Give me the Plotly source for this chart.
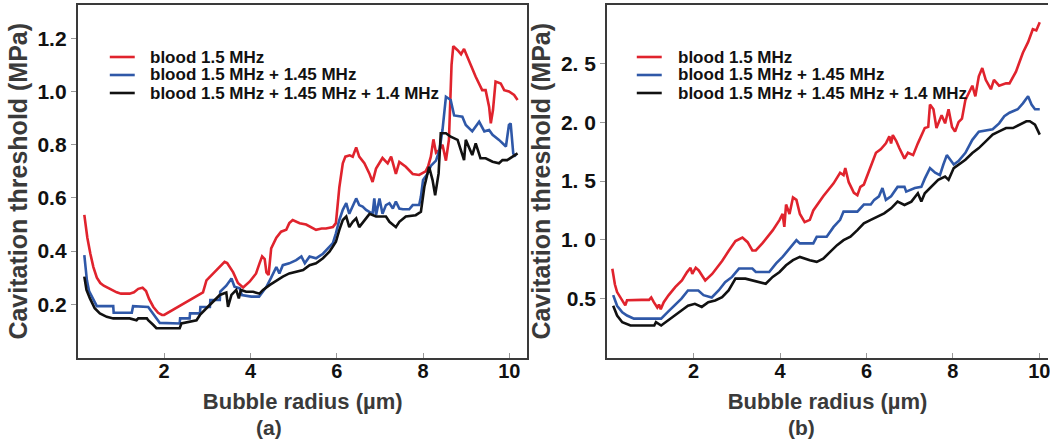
import plotly.graph_objects as go

# ---------------- data: panel (a) ----------------
a_red_x = [0.15, 0.22, 0.29, 0.36, 0.44, 0.52, 0.6, 0.74, 0.9, 1.0, 1.2, 1.3, 1.4, 1.5, 1.58, 1.65, 1.75, 1.86,
           1.95, 2.0, 2.13, 2.29, 2.4, 2.52, 2.67, 2.8, 2.9, 2.98, 3.13, 3.29, 3.4, 3.46, 3.52, 3.6, 3.71, 3.83,
           3.98, 4.13, 4.21, 4.27, 4.33, 4.37, 4.42, 4.48, 4.6, 4.71, 4.83, 4.9, 4.98, 5.06, 5.14, 5.29, 5.4,
           5.52, 5.65, 5.75, 5.91, 5.98, 6.06, 6.14, 6.2, 6.3, 6.37, 6.45, 6.52, 6.64, 6.76, 6.83, 6.91, 7.06,
           7.18, 7.26, 7.37, 7.45, 7.6, 7.76, 7.91, 8.06, 8.12, 8.18, 8.24, 8.3, 8.38, 8.45, 8.53, 8.6, 8.66,
           8.7, 8.8, 8.88, 8.95, 9.07, 9.22, 9.37, 9.45, 9.53, 9.57, 9.62, 9.68, 9.8, 9.88, 9.99, 10.11, 10.19]
a_red_y = [0.536, 0.45, 0.39, 0.34, 0.30, 0.28, 0.27, 0.258, 0.245, 0.24, 0.24, 0.245, 0.258, 0.262, 0.25, 0.22,
           0.19, 0.168, 0.16, 0.16, 0.172, 0.19, 0.2, 0.21, 0.222, 0.235, 0.245, 0.29, 0.316, 0.34, 0.36, 0.355,
           0.34, 0.32, 0.28, 0.263, 0.285, 0.316, 0.354, 0.38, 0.37, 0.32, 0.31, 0.41, 0.45, 0.473, 0.48, 0.505,
           0.517, 0.51, 0.505, 0.50, 0.49, 0.48, 0.485, 0.485, 0.49, 0.505, 0.64, 0.73, 0.755, 0.76, 0.755, 0.79,
           0.755, 0.73, 0.69, 0.66, 0.71, 0.75, 0.73, 0.755, 0.69, 0.735, 0.717, 0.69, 0.686, 0.70, 0.72, 0.755,
           0.82, 0.77, 0.78, 0.80, 0.74, 0.82, 1.1, 1.17, 1.155, 1.14, 1.16, 1.11, 1.055, 1.005, 1.005, 0.943,
           0.88, 0.93, 1.037, 1.03, 1.005, 1.0, 0.987, 0.968]

a_blue_x = [0.15, 0.21, 0.26, 0.32, 0.4, 0.44, 0.82, 0.83, 1.25, 1.28, 1.63, 1.72, 1.8, 1.9, 2.36, 2.37, 2.59,
            2.6, 2.83, 2.84, 3.06, 3.07, 3.29, 3.3, 3.44, 3.56, 3.63, 3.75, 3.8, 4.02, 4.2, 4.29, 4.37, 4.48,
            4.6, 4.67, 4.75, 4.9, 5.06, 5.18, 5.26, 5.37, 5.52, 5.68, 5.83, 5.91, 5.98, 6.06, 6.14, 6.22,
            6.29, 6.37, 6.45, 6.52, 6.6, 6.68, 6.76, 6.83, 6.87, 6.91, 6.99, 7.06, 7.14, 7.22, 7.3, 7.37, 7.45,
            7.53, 7.68, 7.76, 7.91, 7.95, 8.0, 8.1, 8.18, 8.3, 8.38, 8.45, 8.53, 8.57, 8.64, 8.72, 8.91, 8.99,
            9.14, 9.3, 9.42, 9.53, 9.61, 9.76, 9.84, 9.92, 9.99, 10.03, 10.09, 10.15]
a_blue_y = [0.385, 0.29, 0.25, 0.229, 0.205, 0.193, 0.193, 0.168, 0.168, 0.193, 0.19, 0.17, 0.15, 0.13, 0.128,
            0.147, 0.147, 0.166, 0.166, 0.19, 0.19, 0.216, 0.216, 0.248, 0.27, 0.297, 0.266, 0.26, 0.235, 0.229,
            0.229, 0.247, 0.266, 0.30, 0.34, 0.316, 0.347, 0.354, 0.366, 0.38, 0.354, 0.38, 0.373, 0.39, 0.417,
            0.43, 0.467, 0.517, 0.555, 0.58, 0.54, 0.567, 0.598, 0.573, 0.567, 0.555, 0.548, 0.54, 0.598, 0.535,
            0.598, 0.54, 0.573, 0.58, 0.56, 0.586, 0.56, 0.557, 0.557, 0.573, 0.573, 0.605, 0.667, 0.69, 0.72,
            0.74, 0.78, 0.855, 0.98, 0.975, 0.968, 0.91, 0.905, 0.874, 0.85, 0.886, 0.85, 0.855, 0.837, 0.818,
            0.805, 0.793, 0.874, 0.88, 0.767, 0.755]

a_black_x = [0.15, 0.2, 0.28, 0.39, 0.51, 0.67, 0.82, 1.2, 1.36, 1.4, 1.6, 1.63, 1.75, 1.82, 2.36, 2.4, 2.75,
             2.83, 2.98, 3.13, 3.29, 3.44, 3.48, 3.56, 3.67, 3.73, 3.78, 3.9, 4.06, 4.21, 4.29, 4.45, 4.6,
             4.75, 4.9, 5.06, 5.22, 5.37, 5.52, 5.68, 5.83, 5.91, 5.98, 6.06, 6.14, 6.22, 6.29, 6.37, 6.45,
             6.52, 6.64, 6.76, 6.91, 7.14, 7.22, 7.37, 7.45, 7.6, 7.83, 7.95, 8.03, 8.1, 8.14, 8.22, 8.28,
             8.36, 8.41, 8.53, 8.64, 8.8, 8.95, 8.99, 9.14, 9.22, 9.33, 9.45, 9.61, 9.76, 9.84, 9.95, 10.07,
             10.19]
a_black_y = [0.304, 0.254, 0.222, 0.185, 0.166, 0.153, 0.147, 0.147, 0.14, 0.147, 0.147, 0.14, 0.122, 0.11,
             0.11, 0.128, 0.14, 0.16, 0.185, 0.21, 0.235, 0.244, 0.19, 0.235, 0.254, 0.222, 0.254, 0.247, 0.247,
             0.24, 0.254, 0.273, 0.29, 0.304, 0.316, 0.322, 0.329, 0.347, 0.354, 0.373, 0.398, 0.417, 0.435,
             0.48, 0.517, 0.53, 0.49, 0.51, 0.523, 0.49, 0.517, 0.54, 0.53, 0.53, 0.51, 0.49, 0.51, 0.53, 0.535,
             0.548, 0.642, 0.686, 0.717, 0.667, 0.61, 0.692, 0.843, 0.843, 0.83, 0.818, 0.742, 0.818, 0.761,
             0.805, 0.749, 0.749, 0.736, 0.73, 0.742, 0.742, 0.755, 0.767]

# ---------------- data: panel (b) ----------------
b_red_x = [0.12, 0.18, 0.23, 0.31, 0.42, 0.46, 0.6, 0.8, 0.97, 1.02, 1.08, 1.16, 1.2, 1.24, 1.31, 1.42, 1.58,
           1.73, 1.85, 1.93, 1.97, 2.05, 2.12, 2.27, 2.43, 2.66, 2.81, 2.97, 3.13, 3.25, 3.36, 3.44, 3.59, 3.83,
           3.99, 4.06, 4.1, 4.14, 4.22, 4.3, 4.38, 4.46, 4.57, 4.69, 4.77, 5.0, 5.24, 5.39, 5.47, 5.51, 5.59,
           5.71, 5.79, 5.86, 5.94, 6.1, 6.22, 6.33, 6.45, 6.53, 6.57, 6.61, 6.69, 6.76, 6.88, 6.96, 7.08, 7.19,
           7.35, 7.43, 7.47, 7.55, 7.62, 7.74, 7.82, 7.9, 7.98, 8.05, 8.13, 8.21, 8.29, 8.45, 8.52, 8.6, 8.68,
           8.76, 8.88, 8.95, 9.07, 9.23, 9.31, 9.46, 9.62, 9.74, 9.85, 9.93, 10.01]
b_red_y = [0.755, 0.62, 0.556, 0.51, 0.443, 0.486, 0.49, 0.49, 0.49, 0.51, 0.47, 0.425, 0.45, 0.41, 0.47, 0.528,
           0.6, 0.655, 0.726, 0.763, 0.71, 0.763, 0.74, 0.655, 0.71, 0.82, 0.905, 0.99, 1.02, 0.98, 0.91, 0.91,
           0.97, 1.08, 1.17, 1.22, 1.11, 1.3, 1.22, 1.36, 1.34, 1.22, 1.15, 1.17, 1.25, 1.37, 1.48, 1.57, 1.55,
           1.61, 1.49, 1.4, 1.38, 1.45, 1.47, 1.62, 1.74, 1.77, 1.82, 1.88, 1.82, 1.89, 1.84, 1.78, 1.69, 1.74,
           1.72, 1.82, 1.95, 1.96, 2.15, 2.11, 1.95, 2.06, 1.99, 2.11, 1.96, 1.92, 2.0, 2.03, 2.19, 2.31, 2.22,
           2.39, 2.46, 2.36, 2.28, 2.36, 2.31, 2.33, 2.33, 2.43, 2.59, 2.68, 2.79, 2.78, 2.85]

b_blue_x = [0.14, 0.23, 0.35, 0.46, 0.62, 1.09, 1.25, 1.4, 1.56, 1.72, 1.87, 2.11, 2.23, 2.42, 2.58, 2.73, 2.89,
            3.05, 3.36, 3.44, 3.75, 3.91, 4.06, 4.22, 4.38, 4.46, 4.77, 4.85, 5.08, 5.24, 5.39, 5.47, 5.79,
            5.94, 6.1, 6.18, 6.29, 6.37, 6.45, 6.57, 6.72, 6.88, 6.92, 7.12, 7.27, 7.35, 7.47, 7.59, 7.7, 7.78,
            7.86, 7.94, 8.02, 8.13, 8.29, 8.45, 8.6, 8.92, 9.07, 9.19, 9.31, 9.5, 9.62, 9.74, 9.82, 9.9, 10.01]
b_blue_y = [0.53, 0.44, 0.385, 0.357, 0.33, 0.33, 0.33, 0.385, 0.44, 0.5, 0.57, 0.57, 0.53, 0.51, 0.57, 0.64,
            0.685, 0.756, 0.756, 0.727, 0.727, 0.8, 0.855, 0.926, 0.997, 0.97, 0.97, 1.026, 1.026, 1.11, 1.17,
            1.24, 1.24, 1.30, 1.30, 1.34, 1.37, 1.44, 1.34, 1.37, 1.45, 1.45, 1.41, 1.44, 1.45, 1.52, 1.61, 1.57,
            1.55, 1.64, 1.72, 1.68, 1.64, 1.67, 1.74, 1.85, 1.92, 1.94, 1.99, 2.05, 2.08, 2.11, 2.16, 2.22, 2.15,
            2.11, 2.11]

b_black_x = [0.14, 0.23, 0.35, 0.54, 1.09, 1.13, 1.25, 1.4, 1.56, 1.72, 1.87, 2.03, 2.19, 2.34, 2.5, 2.66, 2.81,
             2.97, 3.2, 3.36, 3.52, 3.67, 3.83, 3.99, 4.14, 4.3, 4.46, 4.57, 4.69, 4.85, 5.0, 5.16, 5.32, 5.47,
             5.63, 5.79, 5.94, 6.1, 6.26, 6.41, 6.57, 6.72, 6.88, 7.04, 7.19, 7.27, 7.35, 7.51, 7.66, 7.82, 7.9,
             8.02, 8.13, 8.29, 8.45, 8.6, 8.76, 8.92, 9.07, 9.23, 9.39, 9.54, 9.7, 9.78, 9.9, 10.01]
b_black_y = [0.44, 0.357, 0.30, 0.272, 0.272, 0.30, 0.272, 0.315, 0.357, 0.4, 0.44, 0.456, 0.43, 0.47, 0.485,
             0.513, 0.57, 0.67, 0.67, 0.656, 0.64, 0.627, 0.685, 0.727, 0.784, 0.827, 0.855, 0.84, 0.827, 0.813,
             0.84, 0.898, 0.955, 0.997, 1.026, 1.083, 1.14, 1.17, 1.197, 1.225, 1.268, 1.325, 1.296, 1.325,
             1.396, 1.325, 1.396, 1.453, 1.51, 1.538, 1.51, 1.61, 1.638, 1.681, 1.738, 1.78, 1.837, 1.894, 1.922,
             1.95, 1.95, 1.979, 2.008, 2.008, 1.979, 1.894]

series_names = ["blood 1.5 MHz", "blood 1.5 MHz + 1.45 MHz", "blood 1.5 MHz + 1.45 MHz + 1.4 MHz"]
series_colors = ["#e0232d", "#2f58a8", "#111111"]

a_ytick_vals = [0.2, 0.4, 0.6, 0.8, 1.0, 1.2]
a_ytick_text = ["0.2", "0.4", "0.6", "0.8", "1.0", "1.2"]
b_ytick_vals = [0.5, 1.0, 1.5, 2.0, 2.5]
b_ytick_text = ["0.5", "1. 0", "1. 5", "2. 0", "2. 5"]
xtick_vals = [2, 4, 6, 8, 10]
xtick_text = ["2", "4", "6", "8", "10"]
x_title = "Bubble radius (µm)"
y_title = "Cavitation threshold (MPa)"
panel_labels = ["(a)", "(b)"]

W, H = 1050, 441
FONT = "Liberation Sans, Arial, sans-serif"

fig = go.Figure()
panel_data = [
    [(a_red_x, a_red_y), (a_blue_x, a_blue_y), (a_black_x, a_black_y)],
    [(b_red_x, b_red_y), (b_blue_x, b_blue_y), (b_black_x, b_black_y)],
]
for p, (xa, ya) in enumerate([("x", "y"), ("x2", "y2")]):
    for (xs, ys), name, col in zip(panel_data[p], series_names, series_colors):
        fig.add_trace(go.Scatter(x=xs, y=ys, mode="lines", name=name, xaxis=xa, yaxis=ya,
                                 line=dict(color=col, width=2.6), showlegend=False))

ydom = [(441 - 357.5) / H, (441 - 5) / H]
common_x = dict(showline=True, linecolor="#3a3a3a", linewidth=2, mirror=True, ticks="inside", ticklen=5,
                tickcolor="#999999", tickwidth=1, showgrid=False, zeroline=False,
                tickvals=xtick_vals, ticktext=xtick_text, ticklabelstandoff=-6,
                ticklabeloverflow="allow",
                tickfont=dict(family=FONT, size=20, color="#111111", weight="bold"),
                title=dict(text=x_title, font=dict(family=FONT, size=22, color="#3a3a3a", weight="bold"),
                           standoff=13))
common_y = dict(showline=True, linecolor="#3a3a3a", linewidth=2, ticks="outside", ticklen=5,
                tickcolor="#999999", tickwidth=1, showgrid=False, zeroline=False,
                tickfont=dict(family=FONT, size=21, color="#111111", weight="bold"),
                title=dict(text=y_title, font=dict(family=FONT, size=25, color="#3a3a3a", weight="bold"),
                           standoff=3))

fig.update_layout(
    width=W, height=H,
    margin=dict(l=0, r=0, t=0, b=0),
    paper_bgcolor="white", plot_bgcolor="white",
    font=dict(family=FONT, weight="bold"),
    xaxis=dict(domain=[78 / W, 528.5 / W], range=[0, 10.42], anchor="y", **common_x),
    yaxis=dict(domain=ydom, range=[0, 1.325], anchor="x", mirror=True,
               tickvals=a_ytick_vals, ticktext=a_ytick_text, **common_y),
    xaxis2=dict(domain=[608.3 / W, 1.0], range=[0, (W - 608.3) / 43.3], anchor="y2", **common_x),
    yaxis2=dict(domain=ydom, range=[0, 2.996], anchor="x2", mirror=False,
                tickvals=b_ytick_vals, ticktext=b_ytick_text, **common_y),
)

# manual legends (tight line spacing as in the reference)
leg_rows = [57, 75, 93]
leg_pos = [(110, 135, 148), (638, 663, 677)]
for (x0, x1, xt) in leg_pos:
    for row, name, col in zip(leg_rows, series_names, series_colors):
        yp = 1 - row / H
        fig.add_shape(type="line", xref="paper", yref="paper", x0=x0 / W, x1=x1 / W, y0=yp, y1=yp,
                      line=dict(color=col, width=2.6))
        fig.add_annotation(xref="paper", yref="paper", x=xt / W, y=yp, xanchor="left", yanchor="middle",
                           text=name, showarrow=False,
                           font=dict(family=FONT, size=17, color="#111111", weight="bold"))

for lab, cx in zip(panel_labels, [270, 803]):
    fig.add_annotation(xref="paper", yref="paper", x=cx / W, y=0, xanchor="center",
                       yanchor="bottom", yshift=0, text=lab, showarrow=False,
                       font=dict(family=FONT, size=21, color="#3a3a3a", weight="bold"))

fig.write_html("out.html")
